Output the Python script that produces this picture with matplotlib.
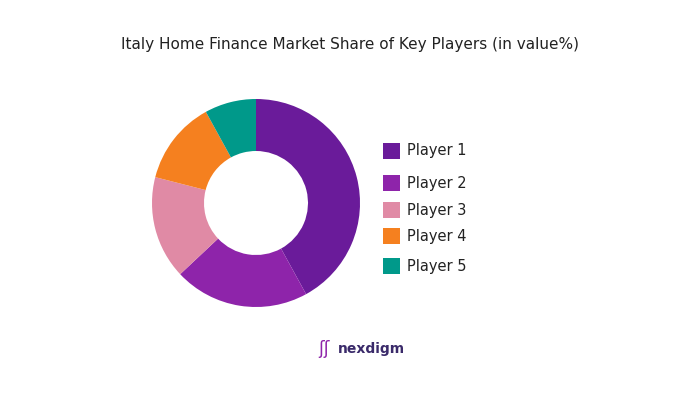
import matplotlib.pyplot as plt
from matplotlib.patches import Rectangle

players = ['Player 1', 'Player 2', 'Player 3', 'Player 4', 'Player 5']
shares = [42, 21, 16, 13, 8]
colors = ['#6A1B9A', '#8E24AA', '#E08AA5', '#F5801F', '#00998A']
legend_y = [151, 183, 210, 236, 266]

W, H = 700, 411
fig = plt.figure(figsize=(7, 4.11), dpi=100)
fig.patch.set_facecolor('white')

cx, cy, r = 256, 203, 104
ax = fig.add_axes([(cx - r) / W, (H - cy - r) / H, 2 * r / W, 2 * r / H])
ax.pie(shares, colors=colors, startangle=90, counterclock=False,
       wedgeprops=dict(width=0.5, edgecolor='none'))
ax.set_xlim(-1, 1)
ax.set_ylim(-1, 1)
ax.set_aspect('equal')

fig.text(0.5, 1 - 45 / H, 'Italy Home Finance Market Share of Key Players (in value%)',
         ha='center', va='center', fontsize=11, color='#222222')

for name, col, y in zip(players, colors, legend_y):
    fig.patches.append(Rectangle((383 / W, 1 - (y + 8) / H), 17 / W, 16 / H,
                                 transform=fig.transFigure, facecolor=col))
    fig.text(407 / W, 1 - y / H, name, ha='left', va='center', fontsize=10.5, color='#222222')

fig.text(338 / W, 1 - 349 / H, 'nexdigm', ha='left', va='center', fontsize=10,
         color='#3a2a6a', fontweight='bold')
fig.text(324 / W, 1 - 349 / H, 'ʃʃ', ha='center', va='center', fontsize=12, color='#8E24AA')

fig.savefig('out.png', dpi=100)
